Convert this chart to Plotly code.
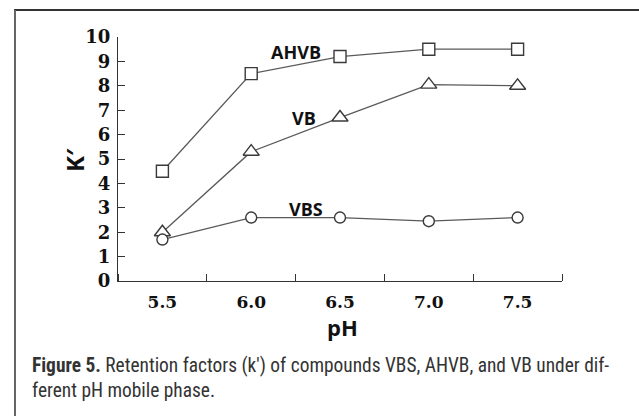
import plotly.graph_objects as go

ph = [5.5, 6.0, 6.5, 7.0, 7.5]
ahvb = [4.5, 8.5, 9.2, 9.5, 9.5]
vb = [2.0, 5.3, 6.7, 8.05, 8.0]
vbs = [1.7, 2.6, 2.6, 2.45, 2.6]
x_ticklabels = ["5.5", "6.0", "6.5", "7.0", "7.5"]
y_ticks = list(range(0, 11))

LINE = "#5a5a5a"
MK = "#3a3a3a"

fig = go.Figure()
for name, ys, sym, sz in [("AHVB", ahvb, "square", 12),
                          ("VB", vb, "triangle-up", 14),
                          ("VBS", vbs, "circle", 11)]:
    fig.add_trace(go.Scatter(
        x=ph, y=ys, mode="lines+markers", name=name,
        line=dict(color=LINE, width=1.3),
        marker=dict(symbol=sym, size=sz, color="white",
                    line=dict(color=MK, width=1.4)),
        showlegend=False))

serif = "DejaVu Serif"
sans = "Open Sans"

fig.update_layout(
    width=639, height=416,
    margin=dict(l=118, r=77, t=37, b=135),
    paper_bgcolor="white", plot_bgcolor="white",
    xaxis=dict(range=[5.25, 7.75], tickmode="array", tickvals=ph,
               ticktext=x_ticklabels, ticks="", showgrid=False, zeroline=False,
               showline=True, linecolor="#333", linewidth=1.3,
               tickfont=dict(family=serif, size=17, color="#111", weight="bold"),
               ticklabelstandoff=5,
               minor=dict(tickmode="linear", tick0=5.75, dtick=0.5, ticks="inside",
                          ticklen=7, tickcolor="#333", tickwidth=1.3, showgrid=False)),
    yaxis=dict(range=[0, 10], tickmode="array", tickvals=y_ticks,
               ticks="inside", ticklen=7, tickcolor="#333", tickwidth=1.3,
               showgrid=False, zeroline=False, showline=True, linecolor="#333",
               linewidth=1.3,
               tickfont=dict(family=serif, size=18, color="#111", weight="bold"),
               ticklabelstandoff=3),
)

for txt, x, y in [("AHVB", 6.25, 9.4), ("VB", 6.30, 6.68), ("VBS", 6.31, 2.95)]:
    fig.add_annotation(x=x, y=y, xref="x", yref="y", text="<b>%s</b>" % txt,
                       showarrow=False, font=dict(family=sans, size=18, color="#111"))

fig.add_annotation(x=(74 - 118) / 444, y=(281 - 160) / 244, xref="paper", yref="paper",
                   xanchor="center", yanchor="middle",
                   text="<b>K′</b>", textangle=-90, showarrow=False,
                   font=dict(family=sans, size=24, color="#111"))
fig.add_annotation(x=(342 - 118) / 444, y=(281 - 327) / 244, xref="paper", yref="paper",
                   xanchor="center", yanchor="middle",
                   text="<b>pH</b>", showarrow=False,
                   font=dict(family=sans, size=22, color="#111"))

cap_font = "Roboto Condensed, Liberation Sans Narrow, Roboto, sans-serif"
fig.add_annotation(x=(30 - 118) / 444, y=(281 - 352) / 244, xref="paper", yref="paper",
                   xanchor="left", yanchor="top", align="left",
                   text="<b>Figure 5.</b> Retention factors (k′) of compounds VBS, AHVB, and VB under dif-<br>ferent pH mobile phase.",
                   showarrow=False, font=dict(family=cap_font, size=19.4, color="#333"))

# frame
fig.add_shape(type="line", xref="paper", yref="paper",
              x0=(14 - 118) / 444, x1=(650 - 118) / 444,
              y0=(281 - 10) / 244, y1=(281 - 10) / 244,
              line=dict(color="#333", width=2))
fig.add_shape(type="line", xref="paper", yref="paper",
              x0=(15 - 118) / 444, x1=(15 - 118) / 444,
              y0=(281 - 10) / 244, y1=(281 - 430) / 244,
              line=dict(color="#666", width=2))

fig.write_html("out.html")
